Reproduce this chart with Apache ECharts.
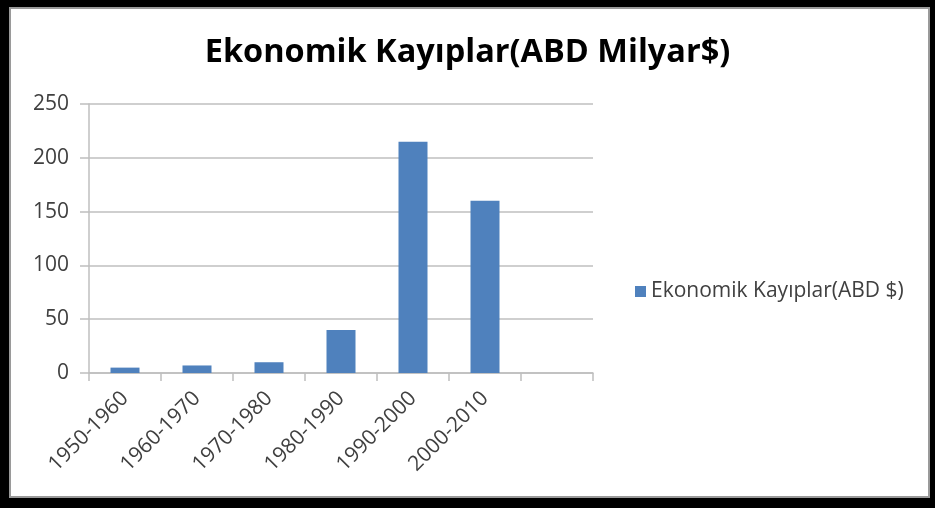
<!DOCTYPE html>
<html><head><meta charset="utf-8">
<script src="https://cdn.jsdelivr.net/npm/echarts@6/dist/echarts.min.js"></script>
<style>html,body{margin:0;padding:0;background:#000;}#c{width:935px;height:508px;}</style>
</head><body><div id="c"></div>
<script>
const categories = ['1950-1960','1960-1970','1970-1980','1980-1990','1990-2000','2000-2010',''];
const values = [5, 7, 10, 40, 215, 160, null];
const yTicks = [0, 50, 100, 150, 200, 250];
const seriesName = 'Ekonomik Kayıplar(ABD $)';
const titleText = 'Ekonomik Kayıplar(ABD Milyar$)';

const chart = echarts.init(document.getElementById('c'), null, {renderer:'canvas'});
chart.setOption({
  backgroundColor: '#000',
  animation: false,
  graphic: [{
    type: 'rect', z: -10, silent: true,
    shape: {x: 10, y: 8, width: 919, height: 489},
    style: {fill: '#fff', stroke: '#9a9a9a', lineWidth: 2}
  }],
  title: {
    text: titleText, left: 'center', top: 31,
    textStyle: {fontFamily: 'Open Sans', fontWeight: 'bold', fontSize: 32.5, color: '#000'}
  },
  legend: {
    left: 630, top: 276, orient: 'vertical',
    itemWidth: 11, itemHeight: 11, itemGap: 6,
    icon: 'rect',
    textStyle: {fontFamily: 'Open Sans', fontSize: 21, color: '#404040'},
    data: [seriesName]
  },
  grid: {left: 89, top: 104, width: 504, height: 269, containLabel: false},
  xAxis: {
    type: 'category', data: categories,
    axisLine: {lineStyle: {color: '#bfbfbf', width: 1.5}},
    axisTick: {show: true, length: 8, lineStyle: {color: '#bfbfbf', width: 1.5}},
    axisLabel: {rotate: 45, margin: 22, interval: 0, fontFamily: 'Open Sans', fontSize: 21, color: '#404040'}
  },
  yAxis: {
    type: 'value', min: 0, max: 250, interval: 50,
    axisLine: {show: true, lineStyle: {color: '#bfbfbf', width: 1.5}},
    axisTick: {show: true, length: 9, lineStyle: {color: '#bfbfbf', width: 1.5}},
    axisLabel: {margin: 20, fontFamily: 'Open Sans', fontSize: 21, color: '#404040',
      formatter: v => yTicks.includes(v) ? String(v) : ''},
    splitLine: {lineStyle: {color: '#bfbfbf', width: 1.5}}
  },
  series: [{
    name: seriesName, type: 'bar', data: values, barWidth: 29,
    itemStyle: {color: '#4f81bd'}
  }]
});
</script></body></html>
